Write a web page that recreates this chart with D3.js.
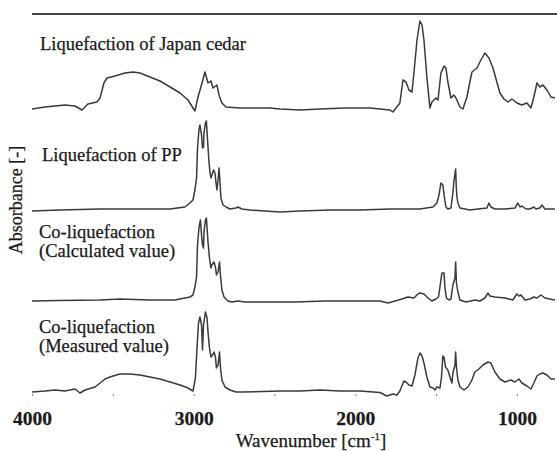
<!DOCTYPE html>
<html>
<head>
<meta charset="utf-8">
<script src="https://cdn.jsdelivr.net/npm/d3@7"></script>
<style>
  html, body { margin: 0; padding: 0; background: #fff; }
  svg { display: block; }
  text { font-family: "Liberation Serif", "Times New Roman", serif; fill: #1a1a1a; stroke: #1a1a1a; stroke-width: 0.25px; }
</style>
</head>
<body>
<svg id="chart" width="557" height="451"></svg>
<script>
// ---- Data: [wavenumber (cm-1), absorbance above each trace's own baseline] ----
const cedar = [
  [4000,-0.01],[3920,0.01],[3858,0.02],[3796,0.03],[3734,0.02],[3691,-0.02],[3654,0.04],[3598,0.06],
  [3579,0.10],[3555,0.25],[3536,0.30],[3487,0.32],[3425,0.35],[3375,0.36],[3332,0.35],[3270,0.31],
  [3208,0.27],[3146,0.21],[3084,0.15],[3035,0.08],[2992,-0.03],[2973,0.11],[2955,0.21],[2930,0.36],
  [2911,0.25],[2893,0.27],[2880,0.20],[2856,0.23],[2843,0.13],[2825,0.05],[2800,0.01],[2713,0.00],
  [2528,0.00],[2466,-0.01],[2342,-0.02],[2218,-0.01],[2064,0.00],[1909,0.00],[1785,-0.02],[1767,-0.04],
  [1724,0.05],[1705,0.28],[1686,0.26],[1668,0.18],[1649,0.16],[1637,0.35],[1618,0.68],[1600,0.87],
  [1587,0.83],[1575,0.68],[1557,0.31],[1538,0.00],[1526,0.06],[1501,0.10],[1488,0.08],[1470,0.35],
  [1451,0.42],[1439,0.40],[1427,0.26],[1408,0.10],[1390,0.13],[1377,0.10],[1352,0.01],[1334,-0.01],
  [1309,0.11],[1291,0.26],[1278,0.36],[1247,0.40],[1229,0.46],[1198,0.55],[1173,0.50],[1148,0.40],
  [1124,0.26],[1105,0.15],[1080,0.09],[1055,0.06],[1031,0.09],[1000,0.05],[969,0.03],[938,0.05],
  [913,0.00],[895,0.11],[876,0.25],[858,0.21],[839,0.23],[814,0.18],[789,0.11],[765,0.10]
];
const pp = [
  [4000,-0.01],[3827,0.00],[3579,0.01],[3332,0.01],[3146,0.01],[3054,0.03],[3023,0.07],[3004,0.10],
  [2992,0.20],[2982,0.32],[2976,0.62],[2967,0.80],[2961,0.85],[2951,0.75],[2945,0.62],[2939,0.63],
  [2936,0.77],[2927,0.87],[2921,0.89],[2914,0.70],[2905,0.48],[2899,0.38],[2893,0.32],[2887,0.35],
  [2877,0.40],[2868,0.37],[2862,0.28],[2856,0.20],[2849,0.30],[2843,0.42],[2837,0.28],[2831,0.12],
  [2818,0.05],[2800,0.03],[2775,0.01],[2738,0.02],[2726,0.03],[2701,0.01],[2651,0.00],[2466,-0.02],
  [2342,-0.01],[2157,0.00],[1971,0.00],[1785,0.01],[1724,0.01],[1600,0.01],[1519,0.03],[1495,0.07],
  [1482,0.15],[1470,0.27],[1458,0.25],[1448,0.12],[1439,0.03],[1427,0.01],[1408,0.02],[1396,0.17],
  [1390,0.28],[1379,0.41],[1375,0.23],[1371,0.13],[1365,0.07],[1352,0.02],[1321,0.01],[1291,0.00],
  [1241,0.01],[1185,0.02],[1173,0.07],[1161,0.03],[1136,0.01],[1074,0.01],[1012,0.02],[994,0.07],
  [981,0.03],[969,0.04],[944,0.01],[919,0.01],[895,0.03],[882,0.01],[858,0.02],[845,0.05],
  [827,0.01],[796,0.01],[765,0.01]
];
const calculated = [
  [4000,0.01],[3827,0.015],[3579,0.02],[3456,0.03],[3270,0.02],[3115,0.02],[3054,0.04],[3023,0.05],
  [3004,0.07],[2992,0.15],[2982,0.25],[2976,0.57],[2967,0.74],[2958,0.82],[2951,0.67],[2945,0.57],
  [2939,0.54],[2936,0.70],[2927,0.82],[2921,0.84],[2911,0.60],[2902,0.44],[2893,0.34],[2887,0.37],
  [2874,0.40],[2865,0.35],[2859,0.27],[2849,0.30],[2840,0.40],[2834,0.27],[2825,0.12],[2812,0.05],
  [2788,0.01],[2763,0.00],[2726,0.01],[2682,0.00],[2466,0.00],[2373,0.00],[2188,0.01],[1971,0.01],
  [1847,0.01],[1798,-0.01],[1754,0.01],[1711,0.03],[1674,0.05],[1637,0.04],[1612,0.08],[1600,0.09],
  [1575,0.08],[1550,0.04],[1526,0.01],[1501,0.03],[1485,0.05],[1476,0.15],[1464,0.29],[1451,0.29],
  [1445,0.14],[1436,0.04],[1420,0.02],[1408,0.03],[1396,0.17],[1383,0.24],[1379,0.40],[1374,0.19],
  [1365,0.10],[1352,0.02],[1315,0.00],[1260,0.02],[1229,0.01],[1198,0.04],[1179,0.09],[1167,0.06],
  [1136,0.05],[1074,0.04],[1025,0.02],[1000,0.08],[987,0.06],[975,0.07],[950,0.02],[919,0.03],
  [895,0.05],[876,0.04],[851,0.07],[827,0.04],[796,0.03],[765,0.02]
];
const measured = [
  [4000,0.00],[3920,0.01],[3858,0.02],[3796,0.01],[3734,0.03],[3703,-0.01],[3672,0.02],[3610,0.05],
  [3579,0.09],[3548,0.13],[3518,0.15],[3456,0.18],[3394,0.18],[3332,0.17],[3270,0.15],[3208,0.13],
  [3146,0.10],[3084,0.07],[3035,0.04],[3004,0.01],[2989,0.14],[2979,0.44],[2970,0.69],[2961,0.75],
  [2951,0.67],[2945,0.42],[2939,0.67],[2927,0.80],[2917,0.74],[2911,0.60],[2902,0.44],[2893,0.35],
  [2883,0.37],[2874,0.40],[2865,0.35],[2859,0.24],[2849,0.27],[2840,0.40],[2834,0.24],[2825,0.12],
  [2806,0.05],[2775,0.02],[2738,0.00],[2701,0.00],[2466,0.01],[2342,0.01],[2218,0.02],[2095,0.01],
  [1971,0.01],[1847,-0.005],[1804,-0.04],[1767,-0.02],[1742,-0.03],[1724,0.01],[1699,0.11],[1686,0.10],
  [1668,0.07],[1649,0.06],[1631,0.17],[1612,0.34],[1600,0.39],[1587,0.36],[1575,0.29],[1557,0.15],
  [1538,0.05],[1519,0.04],[1507,0.02],[1495,0.05],[1476,0.04],[1467,0.14],[1458,0.36],[1451,0.35],
  [1442,0.25],[1427,0.22],[1414,0.15],[1402,0.09],[1396,0.19],[1383,0.27],[1379,0.40],[1374,0.25],
  [1365,0.12],[1352,0.05],[1328,0.02],[1303,0.05],[1278,0.12],[1260,0.20],[1235,0.23],[1210,0.27],
  [1179,0.30],[1161,0.29],[1136,0.20],[1105,0.13],[1074,0.10],[1037,0.12],[1012,0.10],[987,0.13],
  [969,0.09],[938,0.06],[913,0.03],[895,0.09],[876,0.16],[858,0.18],[839,0.19],[814,0.17],
  [789,0.13],[765,0.13]
];
const traceOffsets = [2.96, 1.94, 1.02, 0.12];
const panelLabels = [
  ["Liquefaction of Japan cedar"],
  ["Liquefaction of PP"],
  ["Co-liquefaction", "(Calculated value)"],
  ["Co-liquefaction", "(Measured value)"]
];
const tickValues = [4000, 3500, 3000, 2500, 2000, 1500, 1000];
const labeledTicks = [4000, 3000, 2000, 1000];

// ---- Drawing ----
const svg = d3.select("#chart");
const x = d3.scaleLinear().domain([4000, 750]).range([32, 557.3]);
const y = d3.scaleLinear().domain([0, 3.9]).range([404, 14]);

const series = [cedar, pp, calculated, measured];

// top frame line
svg.append("line")
  .attr("x1", x(4000)).attr("x2", 557)
  .attr("y1", y(3.9)).attr("y2", y(3.9))
  .attr("stroke", "#444").attr("stroke-width", 2);

const line = d3.line();
series.forEach((s, i) => {
  const off = traceOffsets[i];
  svg.append("path")
    .attr("d", line(s.map(d => [x(d[0]), y(d[1] + off)])))
    .attr("fill", "none")
    .attr("stroke", "#3a3a3a")
    .attr("stroke-width", 1.5)
    .attr("stroke-linejoin", "round");
});

// panel labels
const labelPos = [[40, 50], [42, 161], [39, 238], [39, 333]];
panelLabels.forEach((lines, i) => {
  lines.forEach((t, j) => {
    svg.append("text")
      .attr("x", labelPos[i][0])
      .attr("y", labelPos[i][1] + j * 18.5)
      .attr("font-size", 18.5)
      .text(t);
  });
});

// bottom axis (small ticks, no domain line)
const axis = d3.axisBottom(x)
  .tickValues(tickValues)
  .tickSize(2)
  .tickFormat(d => labeledTicks.includes(d) ? d : "");
const gAxis = svg.append("g")
  .attr("transform", "translate(0,394)")
  .call(axis);
gAxis.select(".domain").remove();
gAxis.selectAll(".tick line").attr("stroke", "#888");
gAxis.selectAll(".tick text")
  .attr("dy", null)
  .attr("y", 31)
  .attr("font-size", 19.5)
  .attr("font-weight", "bold")
  .attr("font-family", "'Liberation Serif', 'Times New Roman', serif")
  .attr("fill", "#1a1a1a");

// axis titles
const xt = svg.append("text")
  .attr("x", 311).attr("y", 447)
  .attr("text-anchor", "middle")
  .attr("font-size", 19);
xt.append("tspan").text("Wavenumber [cm");
xt.append("tspan").attr("font-size", 11).attr("dy", -7).text("-1");
xt.append("tspan").attr("dy", 7).text("]");

svg.append("text")
  .attr("transform", "translate(22,200) rotate(-90)")
  .attr("text-anchor", "middle")
  .attr("font-size", 18)
  .text("Absorbance [-]");
</script>
</body>
</html>
